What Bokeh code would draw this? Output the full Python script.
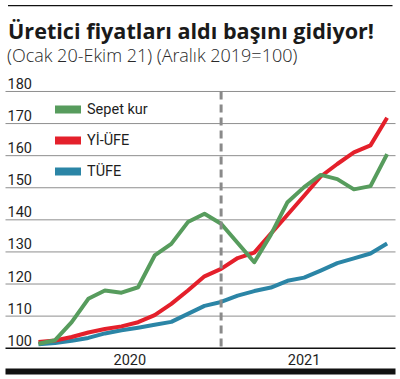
from bokeh.plotting import figure
from bokeh.models import Range1d, BoxAnnotation, Label, Legend, LegendItem
from bokeh.core.properties import value
from bokeh.embed import file_html
from bokeh.resources import INLINE

# ---------------- data ----------------
months = ["Oca 20", "Şub 20", "Mar 20", "Nis 20", "May 20", "Haz 20", "Tem 20", "Ağu 20",
          "Eyl 20", "Eki 20", "Kas 20", "Ara 20", "Oca 21", "Şub 21", "Mar 21", "Nis 21",
          "May 21", "Haz 21", "Tem 21", "Ağu 21", "Eyl 21", "Eki 21"]
sepet_kur = [101.4, 102.5, 108.1, 115.4, 118.0, 117.3, 119.0, 128.9, 132.5, 139.3, 141.9,
             138.8, 132.8, 126.8, 135.4, 145.5, 150.2, 154.0, 152.7, 149.5, 150.5, 160.5]
yi_ufe = [101.9, 102.4, 103.5, 104.9, 106.0, 106.8, 108.1, 110.3, 113.8, 118.0, 122.4,
          124.7, 128.1, 129.8, 135.7, 141.6, 147.5, 153.5, 157.4, 161.0, 163.2, 171.8]
tufe = [101.2, 101.6, 102.3, 103.2, 104.6, 105.6, 106.4, 107.3, 108.2, 110.7, 113.2,
        114.4, 116.4, 117.8, 118.9, 121.0, 122.0, 124.2, 126.5, 128.0, 129.5, 132.6]
series_names = ["Sepet kur", "Yİ-ÜFE", "TÜFE"]
y_ticks = [100, 110, 120, 130, 140, 150, 160, 170, 180]
years = ["2020", "2021"]
year_first = [0, 11]
year_last = [11, 21]
divider_idx = 11

title_text = "Üretici fiyatları aldı başını gidiyor!"
subtitle_text = "(Ocak 20-Ekim 21) (Aralık 2019=100)"

# ---------------- layout ----------------
W, H = 398, 377
X0_PX, DX_PX = 38.0, 16.6      # px of first month, px per month
Y100_PX, DY_PX = 347.7, 3.209  # px (from top) of value 100, px per unit


def fx(px):
    return (px - X0_PX) / DX_PX


def fy(py):
    return 100 + (Y100_PX - py) / DY_PX


GREEN = "#579c5d"
RED = "#e4202b"
BLUE = "#2b85a6"
GRID = "#8e8e8e"
TXT = "#1e1e1e"
NAN = float("nan")

x = list(range(len(months)))

p = figure(width=W, height=H, x_range=Range1d(fx(0), fx(W)), y_range=Range1d(fy(H), fy(0)),
           x_axis_type=None, y_axis_type=None, toolbar_location=None, output_backend="svg",
           min_border=0, outline_line_color=None, background_fill_color="white",
           border_fill_color="white")
p.min_border_left = p.min_border_right = p.min_border_top = p.min_border_bottom = 0

# grid lines and base line
n_grid = len(y_ticks) - 1
p.segment(x0=[fx(5)] * n_grid, x1=[fx(395)] * n_grid, y0=y_ticks[1:], y1=y_ticks[1:],
          line_color=GRID, line_width=1)
p.segment(x0=[fx(5)], x1=[fx(395)], y0=[y_ticks[0]], y1=[y_ticks[0]],
          line_color="#111111", line_width=1.5)

# top rule and bottom bar
p.add_layout(BoxAnnotation(left=fx(7.5), right=fx(392), top=fy(4.4), bottom=fy(5.7),
                           fill_color="#111111", fill_alpha=1, line_color=None))
p.add_layout(BoxAnnotation(left=fx(5), right=fx(395), top=fy(368), bottom=fy(374),
                           fill_color="#111111", fill_alpha=1, line_color=None))

# y tick labels (above grid lines, left aligned)
p.text(x=[fx(7)] * len(y_ticks), y=[t + 8.0 / DY_PX for t in y_ticks],
       text=[str(t) for t in y_ticks], text_baseline="alphabetic", text_align="left",
       text_font=value("Roboto"), text_font_size="14.5px", text_color=TXT)

# year labels
p.text(x=[(a + b) / 2 for a, b in zip(year_first, year_last)],
       y=[fy(358.5)] * len(years), text=years, text_baseline="middle", text_align="center",
       text_font=value("Roboto"), text_font_size="14.5px", text_color=TXT)

# lines
p.line(x, tufe, line_color=BLUE, line_width=4, line_join="round")
p.line(x, yi_ufe, line_color=RED, line_width=4, line_join="round")
p.line(x, sepet_kur, line_color=GREEN, line_width=4, line_join="round")

# year divider
p.segment(x0=[divider_idx], y0=[y_ticks[-1]], x1=[divider_idx], y1=[y_ticks[0]],
          line_color="#8a8a8a", line_width=3, line_dash="8 5")

# legend
leg_r = [p.line(x=[NAN], y=[NAN], line_color=c, line_width=8, line_cap="round")
         for c in (GREEN, RED, BLUE)]
legend = Legend(items=[LegendItem(label=n, renderers=[r]) for n, r in zip(series_names, leg_r)],
                location=(55, 196), orientation="vertical", glyph_width=26, glyph_height=20,
                label_height=20, spacing=11, padding=0, margin=0, label_standoff=6,
                background_fill_alpha=0, border_line_color=None,
                label_text_font="Roboto", label_text_font_size="14.5px", label_text_color=TXT)
p.add_layout(legend)

# title & subtitle
p.add_layout(Label(x=fx(7.5), y=fy(30.0), text=title_text, text_font="Open Sans",
                   text_font_style="bold", text_font_size="21.6px", text_baseline="alphabetic",
                   text_color="#1a1a1a"))
p.add_layout(Label(x=fx(6.5), y=fy(54.0), text=subtitle_text,
                   text_font="'Open Sans Light', 'Open Sans'",
                   text_font_size="18px", text_baseline="alphabetic", text_color="#2a2a2a"))

open("out.html", "w").write(file_html(p, INLINE))
